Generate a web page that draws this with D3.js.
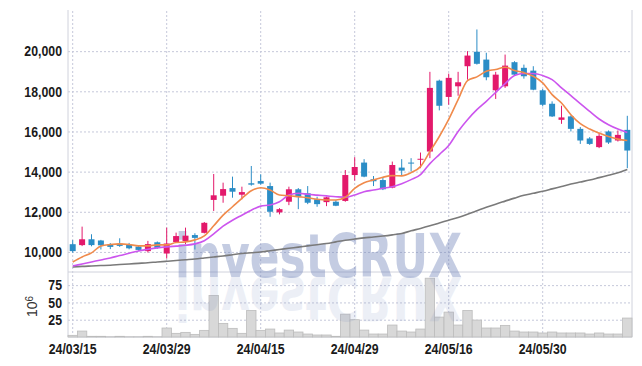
<!DOCTYPE html>
<html>
<head>
<meta charset="utf-8">
<script src="https://cdn.jsdelivr.net/npm/d3@7"></script>
<style>
  body { margin: 0; background: #fff; }
  text { font-family: "Liberation Sans", Arial, sans-serif; }
</style>
</head>
<body>
<div id="chart"></div>
<script>
// trading days (KRX), one per candle
const dates = [
  "24/03/15","24/03/18","24/03/19","24/03/20","24/03/21","24/03/22","24/03/25","24/03/26","24/03/27","24/03/28",
  "24/03/29","24/04/01","24/04/02","24/04/03","24/04/04","24/04/05","24/04/08","24/04/09","24/04/11","24/04/12",
  "24/04/15","24/04/16","24/04/17","24/04/18","24/04/19","24/04/22","24/04/23","24/04/24","24/04/25","24/04/26",
  "24/04/29","24/04/30","24/05/02","24/05/03","24/05/07","24/05/08","24/05/09","24/05/10","24/05/13","24/05/14",
  "24/05/16","24/05/17","24/05/20","24/05/21","24/05/22","24/05/23","24/05/24","24/05/27","24/05/28","24/05/29",
  "24/05/30","24/05/31","24/06/03","24/06/04","24/06/05","24/06/07","24/06/10","24/06/11","24/06/12","24/06/13"
];
const opens = [
  10385,10340,10630,10570,10370,10410,10370,10270,10040,10480,
  9920,10490,10540,10840,10950,12590,12800,13180,12850,13420,
  13530,13280,11970,12500,13120,12920,12620,12480,12500,12540,
  13830,14450,13620,13580,13200,14200,14450,14590,15000,18530,
  17720,18250,19250,19970,19580,18050,18250,19450,19170,19030,
  18050,17380,16580,16750,16130,15650,15220,16000,15550,16080
];
const highs = [
  10585,11260,10880,10600,10440,10680,10450,10320,10550,10520,
  11210,10960,11210,10930,11490,13880,13450,13750,13250,14280,
  13870,13450,12180,13250,13180,13280,12750,12750,12580,14080,
  14720,14620,13780,13720,14500,14620,14670,14950,18970,18580,
  18880,18970,20000,21080,19920,18970,19830,19500,19330,19250,
  18120,17500,17280,16800,16220,15720,15920,16050,16050,16780
];
const lows = [
  9960,10290,10280,10120,10140,10250,10130,10060,9970,10160,
  9670,10450,10390,10120,10920,12040,12450,12700,12620,13300,
  13350,11750,11870,12330,12130,12380,12250,12280,12280,12500,
  13550,13720,13280,13080,13170,13780,14000,14170,14670,17050,
  17330,17780,18580,19330,18550,17620,18170,18780,18630,18050,
  17250,16720,16380,16000,15380,15330,15170,15380,15500,14170
];
const closes = [
  10040,10630,10340,10330,10250,10300,10180,10100,10390,10200,
  10420,10790,10810,10700,11450,12820,13130,13000,12980,13350,
  13400,12000,12130,13120,12750,12450,12380,12720,12300,13830,
  14230,13750,13520,13120,14330,14050,14400,14640,18170,17280,
  18670,18450,19780,19370,18700,18830,19280,18830,18750,18080,
  17330,16750,16700,16130,15550,15380,15780,15450,15830,15050
];
// moving averages
const maShort = [
  9500,9750,9950,10300,10370,10400,10370,10300,10300,10350,
  10350,10470,10500,10600,10800,11300,11835,12250,12670,13050,
  13200,13085,12835,12800,12750,12700,12620,12585,12585,12720,
  13170,13450,13585,13720,13800,13790,13950,14250,15000,15750,
  16600,17585,18535,18720,19000,19085,19200,19035,18930,18750,
  18420,17835,17420,16835,16385,16120,15920,15750,15620,15550
];
const maMid = [
  9300,9400,9500,9600,9700,9820,9930,10050,10130,10200,
  10250,10290,10330,10400,10560,10900,11280,11580,11830,12080,
  12280,12340,12500,12830,12920,12870,12830,12790,12750,12720,
  12840,13000,13080,13170,13250,13400,13600,13850,14400,14850,
  15300,16000,16585,17085,17500,17950,18385,18785,18885,18885,
  18785,18585,18170,17785,17385,17000,16620,16335,16120,15950
];
const maLong = [
  9250,9280,9300,9320,9340,9370,9400,9430,9460,9500,
  9535,9570,9610,9650,9700,9750,9800,9860,9920,9960,
  10000,10060,10120,10180,10240,10300,10360,10420,10500,10580,
  10640,10700,10740,10790,10850,10920,11050,11170,11300,11440,
  11580,11720,11880,12050,12220,12380,12530,12680,12820,12920,
  13020,13140,13260,13380,13480,13580,13700,13820,13940,14100
];
// volume, millions of shares
const volumes = [
  2.4,8.6,1,1,0.3,1,0.3,0.3,1,0.3,
  13,5.3,6.7,3.8,9.6,60,19.7,12.5,5.3,38.4,
  9.6,11.5,5.8,10,7.2,4.3,2.9,2.9,1,33,
  25,10,4.3,4.3,17.3,8.6,7.2,11.5,85,28.8,
  36,17.3,38.4,24.5,13,13,16.8,8.6,7.2,7.2,
  5.8,7.2,5.8,5.8,5.8,4.3,5.8,4.3,4.3,27.4
];
const priceTicks = [10000, 12000, 14000, 16000, 18000, 20000];
const volTicks = [25, 50, 75];
const dateTicks = ["24/03/15", "24/03/29", "24/04/15", "24/04/29", "24/05/16", "24/05/30"];

const WIDTH = 642;
const HEIGHT = 366;
const PLOT = { LEFT: 68, RIGHT: 632, TOP: 10, SPLIT: 272, BOTTOM: 337 };
const UP = "#e3196b", DOWN = "#2b8dc6";
const GRID = "#c5c8da", FRAME = "#d0d2dc";

const svg = d3.select("#chart").append("svg")
  .attr("width", WIDTH)
  .attr("height", HEIGHT);

const x = d3.scaleBand().domain(dates).range([PLOT.LEFT, PLOT.RIGHT]);
const cx = d => x(d) + x.bandwidth() / 2;
const yPrice = d3.scaleLinear().domain([9000, 22050]).range([PLOT.SPLIT, PLOT.TOP]);
const yVol = d3.scaleLinear().domain([0, 94]).range([PLOT.BOTTOM, PLOT.SPLIT]);

// axes + grid; labels squeezed to look like the condensed face of the original
const styleAxis = g => {
  g.select(".domain").remove();
  g.selectAll(".tick line").attr("stroke", GRID).attr("stroke-dasharray", "2,2");
  g.selectAll(".tick text")
    .attr("fill", "#1a1a1a")
    .style("font-size", "15px")
    .style("font-weight", "bold")
    .each(function () {
      const w = this.getComputedTextLength();
      d3.select(this).attr("textLength", w * 0.82).attr("lengthAdjust", "spacingAndGlyphs");
    });
};

svg.append("g")
  .attr("transform", `translate(${PLOT.LEFT},0)`)
  .call(d3.axisLeft(yPrice).tickValues(priceTicks)
    .tickSizeInner(-(PLOT.RIGHT - PLOT.LEFT)).tickSizeOuter(0).tickPadding(6)
    .tickFormat(d3.format(",")))
  .call(styleAxis);

svg.append("g")
  .attr("transform", `translate(${PLOT.LEFT},0)`)
  .call(d3.axisLeft(yVol).tickValues(volTicks)
    .tickSizeInner(-(PLOT.RIGHT - PLOT.LEFT)).tickSizeOuter(0).tickPadding(6))
  .call(styleAxis);

svg.append("g")
  .attr("transform", `translate(0,${PLOT.BOTTOM})`)
  .call(d3.axisBottom(x).tickValues(dateTicks)
    .tickSizeInner(-(PLOT.BOTTOM - PLOT.TOP)).tickSizeOuter(0).tickPadding(6))
  .call(styleAxis);

// frame
const frame = svg.append("g").attr("stroke", FRAME).attr("stroke-width", 1);
frame.append("line").attr("x1", PLOT.LEFT).attr("x2", PLOT.LEFT).attr("y1", PLOT.TOP).attr("y2", PLOT.BOTTOM);
frame.append("line").attr("x1", PLOT.RIGHT).attr("x2", PLOT.RIGHT).attr("y1", PLOT.TOP).attr("y2", PLOT.BOTTOM);
frame.append("line").attr("x1", PLOT.LEFT).attr("x2", PLOT.RIGHT).attr("y1", PLOT.SPLIT).attr("y2", PLOT.SPLIT);
frame.append("line").attr("x1", PLOT.LEFT).attr("x2", PLOT.RIGHT).attr("y1", PLOT.BOTTOM).attr("y2", PLOT.BOTTOM);

// volume title 10^6
const vt = svg.append("text")
  .attr("transform", `translate(37,${(PLOT.SPLIT + PLOT.BOTTOM) / 2 + 2}) rotate(-90)`)
  .attr("text-anchor", "middle")
  .attr("fill", "#333")
  .style("font-size", "14px");
vt.append("tspan").text("10");
vt.append("tspan").attr("dy", "-0.45em").style("font-size", "10px").text("6");

// volume bars
svg.append("g")
  .selectAll("rect")
  .data(volumes)
  .enter()
  .append("rect")
  .attr("x", (v, i) => x(dates[i]))
  .attr("width", x.bandwidth())
  .attr("y", v => yVol(v))
  .attr("height", v => yVol(0) - yVol(v))
  .attr("fill", "#d8d8d8")
  .attr("stroke", "#bcbcbc")
  .attr("stroke-width", 0.8);

// watermark with reflection
const WM_BASE = 277;
const wm = svg.append("g").attr("pointer-events", "none");
wm.append("text")
  .attr("x", 175).attr("y", WM_BASE)
  .attr("textLength", 287).attr("lengthAdjust", "spacingAndGlyphs")
  .style("font-family", "'DejaVu Sans', sans-serif")
  .style("font-weight", "bold").style("font-size", "60px")
  .attr("fill", "rgb(110,130,185)").attr("opacity", 0.4)
  .text("investCRUX");
wm.append("text")
  .attr("transform", `translate(0,${2 * WM_BASE}) scale(1,-1)`)
  .attr("x", 175).attr("y", WM_BASE)
  .attr("textLength", 287).attr("lengthAdjust", "spacingAndGlyphs")
  .style("font-family", "'DejaVu Sans', sans-serif")
  .style("font-weight", "bold").style("font-size", "60px")
  .attr("fill", "rgb(110,130,185)").attr("opacity", 0.12)
  .text("investCRUX");

// candles
const candles = svg.append("g")
  .selectAll("g")
  .data(dates)
  .enter()
  .append("g")
  .attr("fill", (d, i) => closes[i] >= opens[i] ? UP : DOWN)
  .attr("stroke", (d, i) => closes[i] >= opens[i] ? UP : DOWN);

candles.append("line")
  .attr("x1", d => cx(d)).attr("x2", d => cx(d))
  .attr("y1", (d, i) => yPrice(highs[i]))
  .attr("y2", (d, i) => yPrice(lows[i]))
  .attr("stroke-width", 1);

const BODY = 6;
candles.append("rect")
  .attr("x", d => cx(d) - BODY / 2)
  .attr("width", BODY)
  .attr("y", (d, i) => yPrice(Math.max(opens[i], closes[i])))
  .attr("height", (d, i) => Math.max(1, Math.abs(yPrice(opens[i]) - yPrice(closes[i]))))
  .attr("stroke", "none");

// moving averages
const maLine = d3.line()
  .x((v, i) => cx(dates[i]))
  .y(v => yPrice(v))
  .curve(d3.curveMonotoneX);

[[maLong, "#7a7a7a"], [maMid, "#cc55ee"], [maShort, "#f08a4b"]].forEach(([series, color]) => {
  svg.append("path")
    .datum(series)
    .attr("d", maLine)
    .attr("fill", "none")
    .attr("stroke", color)
    .attr("stroke-width", 1.6);
});
</script>
</body>
</html>
